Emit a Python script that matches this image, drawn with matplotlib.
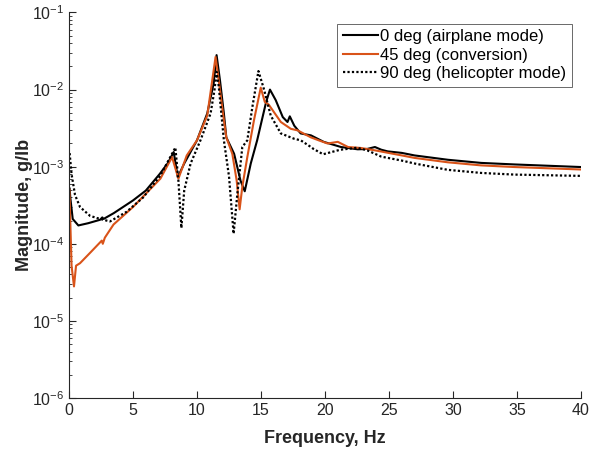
"""Tiltrotor frequency response — magnitude vs frequency at three nacelle angles."""
import numpy as np
import matplotlib
matplotlib.use("Agg")
import matplotlib.pyplot as plt
from matplotlib.ticker import LogLocator, NullFormatter, MultipleLocator

# ---------------------------------------------------------------------------
# Data (Hz, g/lb)
# ---------------------------------------------------------------------------
freq_0 = [0.05, 0.1, 0.29, 0.73, 1.5, 2.43, 2.6, 2.7, 3.5, 5.0, 6.0, 7.1, 7.7,
          8.18, 8.5, 9.0, 10.0, 10.8, 11.3, 11.53, 11.8, 12.1, 12.29, 12.9,
          13.4, 13.73, 14.2, 14.7, 15.0, 15.4, 15.7, 16.15, 16.7, 17.07, 17.25,
          17.6, 18.1, 18.9, 19.9, 21.25, 22.56, 23.3, 23.9, 24.4, 24.9, 26.0,
          27.0, 29.6, 32.2, 34.8, 40.0]
mag_0 = [5.2e-4, 4.0e-4, 2.1e-4, 1.73e-4, 1.85e-4, 2.05e-4, 2.2e-4, 2.1e-4,
         2.5e-4, 3.65e-4, 4.9e-4, 8.1e-4, 1.1e-3, 1.55e-3, 7.3e-4, 1.1e-3,
         2.2e-3, 4.9e-3, 1.2e-2, 2.8e-2, 1.3e-2, 4.9e-3, 2.4e-3, 1.47e-3,
         6.6e-4, 4.8e-4, 1.1e-3, 2.2e-3, 3.6e-3, 6.9e-3, 1.0e-2, 7.3e-3,
         4.4e-3, 3.8e-3, 4.5e-3, 3.4e-3, 2.7e-3, 2.55e-3, 2.1e-3, 1.8e-3,
         1.68e-3, 1.7e-3, 1.8e-3, 1.66e-3, 1.58e-3, 1.51e-3, 1.4e-3, 1.23e-3,
         1.12e-3, 1.07e-3, 9.9e-4]

freq_45 = [0.03, 0.2, 0.39, 0.55, 0.86, 1.7, 2.56, 2.64, 2.8, 3.48, 5.0, 7.14,
           8.05, 8.55, 9.2, 10.0, 10.8, 11.45, 11.7, 12.1, 12.29, 12.76, 13.1,
           13.33, 13.54, 13.93, 14.45, 14.98, 15.3, 15.6, 16.55, 17.33, 17.86,
           18.9, 19.5, 20.2, 21.0, 21.8, 22.8, 23.9, 26.0, 27.0, 29.6, 32.2,
           34.8, 40.0]
mag_45 = [5.0e-4, 5.2e-5, 2.8e-5, 5.2e-5, 5.6e-5, 7.8e-5, 1.1e-4, 1.0e-4,
          1.2e-4, 1.78e-4, 3.0e-4, 7.0e-4, 1.33e-3, 7.0e-4, 1.4e-3, 2.2e-3,
          4.6e-3, 2.65e-2, 1.3e-2, 4.0e-3, 2.4e-3, 1.47e-3, 6.6e-4, 2.8e-4,
          5.5e-4, 1.33e-3, 4.0e-3, 1.06e-2, 6.9e-3, 6.4e-3, 3.8e-3, 3.1e-3,
          2.96e-3, 2.4e-3, 2.2e-3, 2.0e-3, 2.1e-3, 1.8e-3, 1.75e-3, 1.63e-3,
          1.4e-3, 1.3e-3, 1.14e-3, 1.04e-3, 9.9e-4, 9.2e-4]

freq_90 = [0.05, 0.2, 0.47, 0.86, 1.65, 2.43, 3.2, 4.5, 5.8, 7.14, 8.31, 8.55,
           8.78, 9.0, 9.5, 10.27, 11.06, 11.37, 11.53, 11.7, 12.1, 12.5, 12.86,
           13.15, 13.54, 13.93, 14.33, 14.8, 15.24, 15.76, 16.55, 17.6, 18.1,
           18.9, 19.1, 19.85, 21.2, 22.5, 23.3, 24.4, 26.0, 27.0, 29.6, 32.2,
           34.8, 40.0]
mag_90 = [1.5e-3, 8.0e-4, 4.3e-4, 3.0e-4, 2.3e-4, 2.1e-4, 1.95e-4, 2.6e-4,
          4.0e-4, 7.7e-4, 1.77e-3, 6.5e-4, 1.6e-4, 4.9e-4, 1.1e-3, 2.2e-3,
          4.9e-3, 1.0e-2, 1.7e-2, 1.1e-2, 2.2e-3, 7.5e-4, 1.35e-4, 4.4e-4,
          1.8e-3, 2.2e-3, 6.0e-3, 1.74e-2, 1.0e-2, 4.6e-3, 2.7e-3, 2.3e-3,
          2.2e-3, 1.8e-3, 1.7e-3, 1.45e-3, 1.66e-3, 1.76e-3, 1.63e-3, 1.35e-3,
          1.2e-3, 1.1e-3, 9.1e-4, 8.3e-4, 7.9e-4, 7.6e-4]

labels = ["0 deg (airplane mode)", "45 deg (conversion)", "90 deg (helicopter mode)"]

# ---------------------------------------------------------------------------
# Figure
# ---------------------------------------------------------------------------
plt.rcParams.update({
    "font.family": ["Liberation Sans", "DejaVu Sans"],
    "font.size": 11,
    "axes.edgecolor": "#262626",
    "xtick.color": "#262626",
    "ytick.color": "#262626",
    "xtick.labelcolor": "#262626",
    "ytick.labelcolor": "#262626",
})

fig = plt.figure(figsize=(5.91, 4.5), dpi=100)
ax = fig.add_axes([69 / 591, 1 - 398 / 450, 512 / 591, 385.5 / 450])

ax.semilogy(freq_0, mag_0, color="black", lw=1.5, label=labels[0])
ax.semilogy(freq_45, mag_45, color="#D95319", lw=1.5, label=labels[1])
ax.semilogy(freq_90, mag_90, color="black", lw=1.6, ls=(0, (1, 1)), label=labels[2])

ax.set_xlim(0, 40)
ax.set_ylim(1e-6, 1e-1)
ax.xaxis.set_major_locator(MultipleLocator(5))
ax.yaxis.set_major_locator(LogLocator(base=10, numticks=10))
ax.yaxis.set_minor_locator(LogLocator(base=10, subs=np.arange(2, 10), numticks=10))
ax.yaxis.set_minor_formatter(NullFormatter())

for side in ("top", "right"):
    ax.spines[side].set_visible(False)
ax.spines["left"].set_linewidth(0.8)
ax.spines["bottom"].set_linewidth(0.8)
ax.tick_params(which="major", direction="in", length=5, width=0.8, labelsize=11.5)
ax.tick_params(which="minor", direction="in", length=2.5, width=0.6)

ax.set_xlabel("Frequency, Hz", fontsize=13, fontweight="bold", color="#262626",
              labelpad=9)
ax.set_ylabel("Magnitude, g/lb", fontsize=13, fontweight="bold", color="#262626",
              labelpad=-1)

leg = ax.legend(loc="upper right", bbox_to_anchor=(1 - 9 / 512, 1 - 11 / 385.5),
                fontsize=12, frameon=True, fancybox=False, handlelength=2.1,
                handletextpad=0.12, borderpad=0.35, labelspacing=0.2,
                borderaxespad=0)
leg.get_frame().set_edgecolor("#262626")
leg.get_frame().set_linewidth(0.6)

fig.savefig("out.png", dpi=100)
